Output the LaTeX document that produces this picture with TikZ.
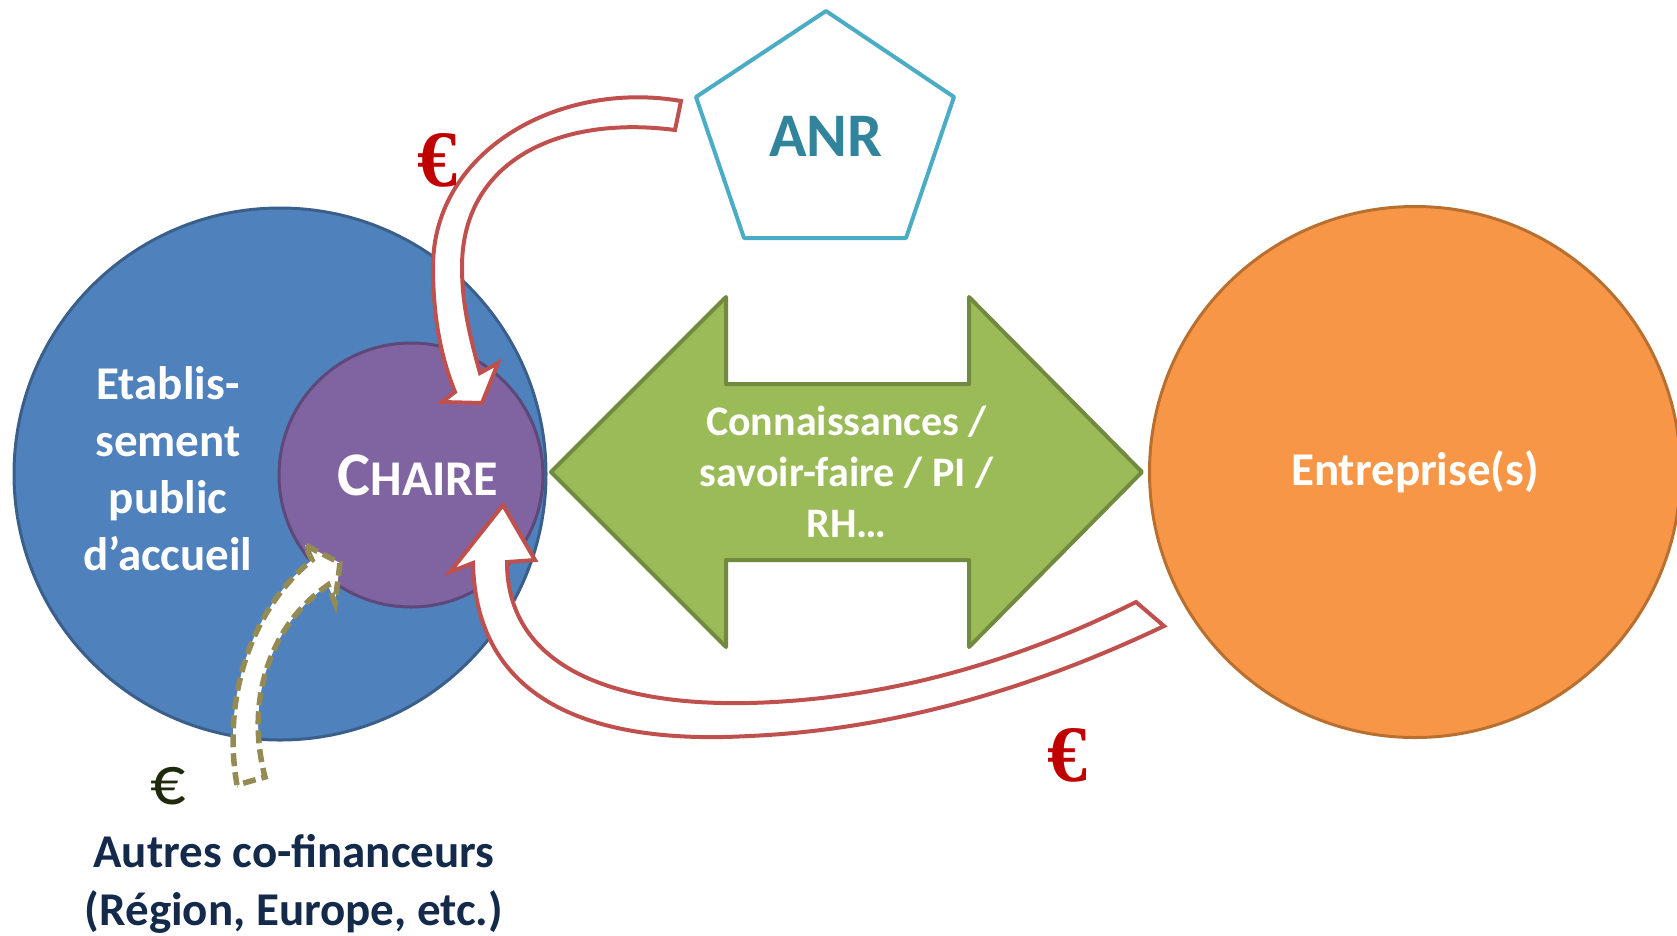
\documentclass[tikz,border=0pt]{standalone}
\usepackage{fontspec}
\setmainfont{Carlito}
\newfontfamily\eurofont{Liberation Serif}
\usetikzlibrary{
arrows.meta,
shapes
}
\definecolor{etabblue}{HTML}{4F81BD}
\definecolor{etabedge}{HTML}{3A5F8B}
\definecolor{chairepurple}{HTML}{8064A2}
\definecolor{chaireedge}{HTML}{5E4779}
\definecolor{entorange}{HTML}{F79646}
\definecolor{entedge}{HTML}{B96F30}
\definecolor{knowgreen}{HTML}{9BBB59}
\definecolor{knowedge}{HTML}{728A3F}
\definecolor{anredge}{HTML}{4BACC6}
\definecolor{anrtext}{HTML}{31849B}
\definecolor{arrowred}{HTML}{C0504D}
\definecolor{fundolive}{HTML}{948A54}
\definecolor{fundnavy}{HTML}{132A4A}
\definecolor{eurodark}{HTML}{1F2A0C}
\definecolor{eurored}{HTML}{C00000}
\tikzset{>=latex}

\begin{document}
\begin{tikzpicture}[x=1pt, y=-1pt,
	redarrow/.style={draw=arrowred, line width=4pt, fill=white, line join=miter},
	fundarrow/.style={draw=fundolive, line width=5.5pt, fill=white, dash pattern=on 13pt off 6pt},
	redeuro/.style={text=eurored, font=\eurofont\bfseries\fontsize{80}{90}\selectfont}]
		\useasboundingbox (0,0) rectangle (1677,935);
		
		% the three partners
		\node[circle,draw=etabedge,fill=etabblue,line width=3pt,minimum size=532pt] (etab) at (280,474) {};
		\node[circle,draw=chaireedge,fill=chairepurple,line width=3pt,minimum size=264pt,text=white,font=\bfseries] (chaire) at (411,475) {\hspace*{14pt}{\fontsize{62}{74}\selectfont C}{\fontsize{50}{60}\selectfont HAIRE}};
		\node[circle,draw=entedge,fill=entorange,line width=3pt,minimum size=531pt,text=white,font=\bfseries\fontsize{47}{57}\selectfont] (ent) at (1415,472) {Entreprise(s)};
		\node[text=white,align=center,font=\bfseries\fontsize{47}{57}\selectfont] (etabtext) at (168,469) {Etablis-\\sement\\public\\d’accueil};
		
		% exchange between chaire and companies
		\coordinate (knowl) at (551,472);
		\coordinate (knowr) at (1142,472);
		\draw[draw=knowedge,fill=knowgreen,line width=4pt,line join=round] (knowl) -- (726,297) -- (726,384) -- (969,384) -- (969,297) -- (knowr) -- (969,647) -- (969,560) -- (726,560) -- (726,647) -- cycle;
		\node[text=white,align=center,font=\bfseries\fontsize{42}{51}\selectfont] (know) at (846.5,472) {Connaissances /\\savoir-faire / PI /\\RH…};
		
		% anr
		\coordinate (anrtop) at (826,11);
		\draw[draw=anredge,line width=4pt,line join=round] (anrtop) -- (954,97) -- (906,238) -- (744,238) -- (696,97) -- cycle;
		\node[text=anrtext,font=\bfseries\fontsize{62}{74}\selectfont] (anr) at (826,136) {ANR};
		
		% funding from anr
		\coordinate (anrtail) at (681,101);
		\coordinate (anrtail2) at (675,130);
		\coordinate (anrtip) at (482,403);
		\draw[redarrow] (anrtail) .. controls (560,80) and (433,150) .. (433,267) .. controls (433,320) and (442,360) .. (455,392) -- (442,402) -- (anrtip) -- (498,363) -- (480,373) .. controls (468,330) and (462,300) .. (462,267) .. controls (462,160) and (560,115) .. (anrtail2) -- cycle;
		\node[redeuro] (anreuro) at (437,160) {€};
		
		% funding from companies
		\coordinate (enttail) at (1164,626);
		\coordinate (enttail2) at (1136,602);
		\coordinate (enttip) at (503,505);
		\draw[redarrow] (enttail) .. controls (1030,690) and (890,730) .. (749,736) .. controls (590,745) and (476,700) .. (473,563) -- (450,572) -- (enttip) -- (535,560) -- (507,562) .. controls (507,660) and (600,706) .. (749,703) .. controls (870,700) and (1000,670) .. (enttail2) -- cycle;
		\node[redeuro] (enteuro) at (1067,755) {€};
		
		% other funders
		\coordinate (fundtail) at (237,785);
		\coordinate (fundtail2) at (265,777);
		\coordinate (fundtip) at (340,563);
		\draw[fundarrow] (fundtail) .. controls (222,700) and (250,610) .. (312,560) -- (305,545) -- (fundtip) -- (335,603) -- (328,585) .. controls (270,625) and (245,700) .. (fundtail2) -- cycle;
		\node[text=eurodark,font=\fontsize{70}{80}\selectfont] (fundeuro) at (168,786) {€};
		\node[text=fundnavy,align=center,font=\bfseries\fontsize{47}{58}\selectfont] (funders) at (294,884) {Autres co-financeurs\\(Région, Europe, etc.)};
	\end{tikzpicture}
\end{document}
